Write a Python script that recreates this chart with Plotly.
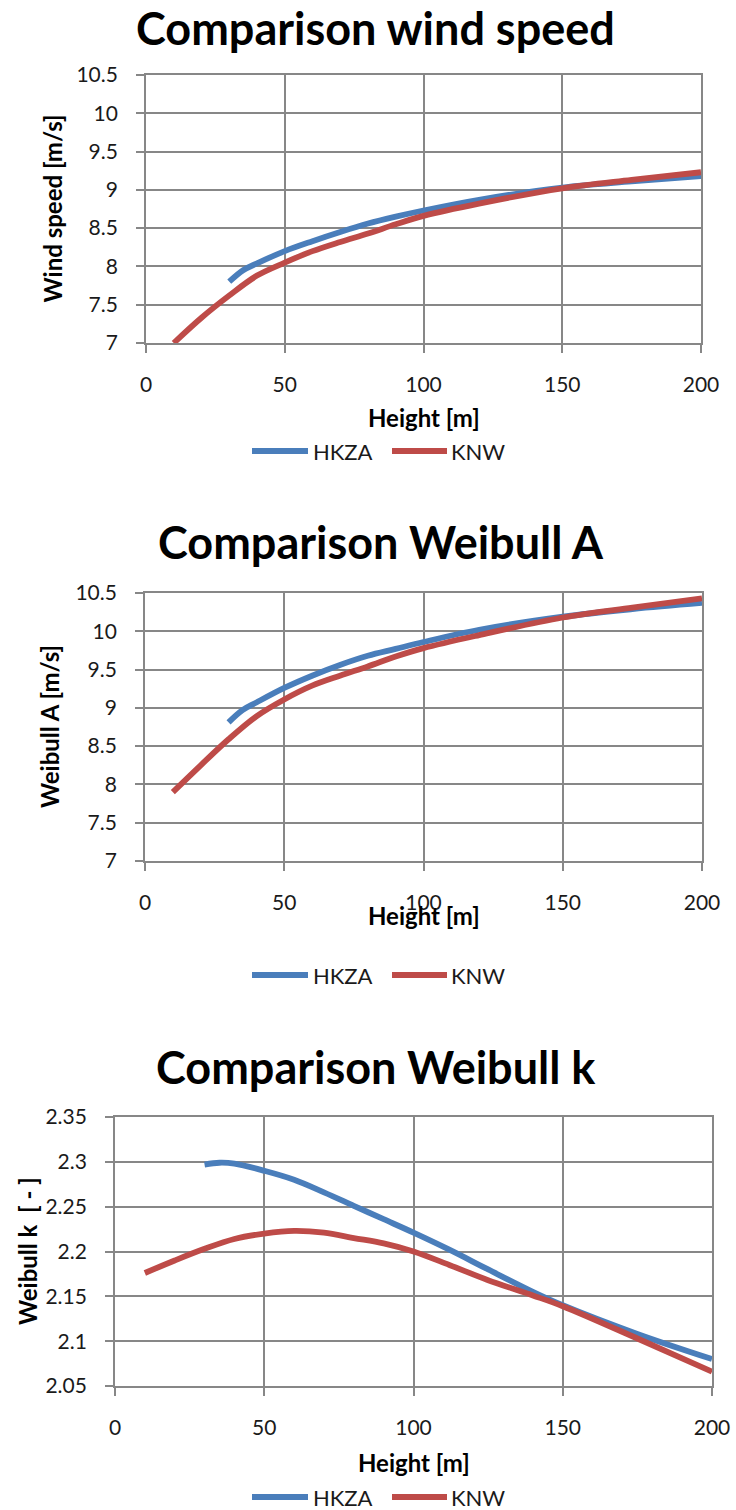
import plotly.graph_objects as go

# ---------------- data ----------------
# Chart 1: wind speed
h_hkza_ws = [30, 35, 40, 50, 60, 70, 80, 90, 100, 120, 150, 175, 200]
ws_hkza = [7.80, 7.95, 8.04, 8.20, 8.33, 8.45, 8.56, 8.65, 8.73, 8.87, 9.03, 9.11, 9.18]
h_knw_ws = [10, 20, 30, 40, 50, 60, 70, 80, 90, 100, 120, 150, 175, 200]
ws_knw = [7.00, 7.33, 7.62, 7.88, 8.05, 8.20, 8.32, 8.43, 8.55, 8.66, 8.82, 9.02, 9.13, 9.23]

# Chart 2: Weibull A
h_hkza_a = [30, 35, 40, 50, 60, 70, 80, 90, 100, 120, 150, 175, 200]
a_hkza = [8.81, 8.97, 9.07, 9.26, 9.42, 9.56, 9.68, 9.77, 9.86, 10.02, 10.19, 10.29, 10.37]
h_knw_a = [10, 20, 30, 40, 50, 60, 70, 80, 90, 100, 120, 150, 175, 200]
a_knw = [7.90, 8.25, 8.59, 8.89, 9.11, 9.29, 9.42, 9.54, 9.67, 9.78, 9.95, 10.18, 10.31, 10.43]

# Chart 3: Weibull k
h_hkza_k = [30, 35, 40, 50, 60, 70, 80, 90, 100, 112, 125, 140, 150, 175, 200]
k_hkza = [2.297, 2.299, 2.298, 2.290, 2.280, 2.266, 2.251, 2.236, 2.221, 2.202, 2.180, 2.155, 2.140, 2.108, 2.080]
h_knw_k = [10, 20, 30, 40, 50, 60, 70, 80, 90, 100, 112, 125, 140, 150, 175, 200]
k_knw = [2.176, 2.190, 2.203, 2.214, 2.220, 2.223, 2.221, 2.215, 2.209, 2.200, 2.185, 2.168, 2.151, 2.139, 2.103, 2.066]

series_names = ["HKZA", "KNW"]
titles = ["Comparison wind speed", "Comparison Weibull A", "Comparison Weibull k"]
y_titles = ["Wind speed [m/s]", "Weibull A [m/s]", "Weibull k\u00a0 [ - ]"]
x_title = "Height [m]"

# ---------------- styling ----------------
W, H = 736, 1510
BLUE = "#4A7EBB"
RED = "#BE4B48"
COLORS = [BLUE, RED]
GRID = "#878787"
FONT = "Lato"
TXT = "#1a1a1a"
LW = 5.8


def px(xp, yp):
    return xp / W, 1 - yp / H


fig = go.Figure()

datasets = [
    (h_hkza_ws, ws_hkza, h_knw_ws, ws_knw),
    (h_hkza_a, a_hkza, h_knw_a, a_knw),
    (h_hkza_k, k_hkza, h_knw_k, k_knw),
]
for i, (hx1, y1, hx2, y2) in enumerate(datasets):
    xa = "x" if i == 0 else f"x{i+1}"
    ya = "y" if i == 0 else f"y{i+1}"
    fig.add_trace(go.Scatter(x=hx1, y=y1, mode="lines", name=series_names[0],
                             line=dict(color=BLUE, width=LW, shape="spline"),
                             xaxis=xa, yaxis=ya, showlegend=False))
    fig.add_trace(go.Scatter(x=hx2, y=y2, mode="lines", name=series_names[1],
                             line=dict(color=RED, width=LW, shape="spline"),
                             xaxis=xa, yaxis=ya, showlegend=False))

# plot-area pixel boxes: (left, right, top, bottom)
boxes = [(146, 701, 75, 343), (145, 702, 593, 861), (115, 712, 1117, 1386)]
yranges = [(7, 10.5, 0.5), (7, 10.5, 0.5), (2.05, 2.35, 0.05)]

axis_common = dict(showgrid=True, gridcolor=GRID, gridwidth=1.8, showline=True,
                   linecolor=GRID, linewidth=1.8, ticks="outside", ticklen=8,
                   tickwidth=1.8, tickcolor=GRID, zeroline=False, mirror=True,
                   automargin=False,
                   tickfont=dict(family=FONT, size=21, color=TXT))

layout = {}
for i, (l, r, t, b) in enumerate(boxes):
    sfx = "" if i == 0 else str(i + 1)
    lo, hi, dt = yranges[i]
    layout[f"xaxis{sfx}"] = dict(axis_common, domain=[l / W, r / W], range=[0, 200],
                                 tick0=0, dtick=50, anchor=f"y{sfx}",
                                 ticklabelstandoff=14)
    layout[f"yaxis{sfx}"] = dict(axis_common, domain=[1 - b / H, 1 - t / H],
                                 range=[lo, hi], tick0=lo, dtick=dt, anchor=f"x{sfx}",
                                 ticklabelstandoff=14)

annotations = []
shapes = []

# custom legends (line sample + label) under each chart
legend_y = [451, 975, 1497]
legend_items = [(252, 308, 311), (392, 447, 449)]  # (line start, line end, text start) in px
for ly in legend_y:
    for k, (x0, x1, tx) in enumerate(legend_items):
        shapes.append(dict(type="line", xref="paper", yref="paper",
                           x0=x0 / W, x1=x1 / W, y0=1 - ly / H, y1=1 - ly / H,
                           line=dict(color=COLORS[k], width=6)))
        annotations.append(dict(text=series_names[k], x=tx / W, y=1 - ly / H,
                                xref="paper", yref="paper", showarrow=False,
                                xanchor="left", yanchor="middle",
                                font=dict(family=FONT, size=22, color=TXT)))

title_pos = [(375.5, 28), (381, 542), (376, 1067)]
for (tx, ty), t in zip(title_pos, titles):
    x, y = px(tx, ty)
    annotations.append(dict(text=f"<b>{t}</b>", x=x, y=y, xref="paper", yref="paper",
                            showarrow=False, xanchor="center", yanchor="middle",
                            font=dict(family=FONT, size=45, color="#000")))
xt_pos = [(423.5, 417), (423.5, 915), (413.5, 1462)]
for (tx, ty) in xt_pos:
    x, y = px(tx, ty)
    annotations.append(dict(text=f"<b>{x_title}</b>", x=x, y=y, xref="paper", yref="paper",
                            showarrow=False, xanchor="center", yanchor="middle",
                            font=dict(family=FONT, size=24, color="#000")))
yt_pos = [(51.5, 209), (50, 727), (27, 1251)]
for (tx, ty), t in zip(yt_pos, y_titles):
    x, y = px(tx, ty)
    annotations.append(dict(text=f"<b>{t}</b>", x=x, y=y, xref="paper", yref="paper",
                            showarrow=False, xanchor="center", yanchor="middle",
                            textangle=-90,
                            font=dict(family=FONT, size=24, color="#000")))

fig.update_layout(
    width=W, height=H,
    margin=dict(l=0, r=0, t=0, b=0, autoexpand=False),
    paper_bgcolor="white", plot_bgcolor="white",
    showlegend=False,
    annotations=annotations,
    shapes=shapes,
    **layout,
)

fig.write_html("out.html", config={"displayModeBar": False},
               post_script="document.body.style.margin='0';")
